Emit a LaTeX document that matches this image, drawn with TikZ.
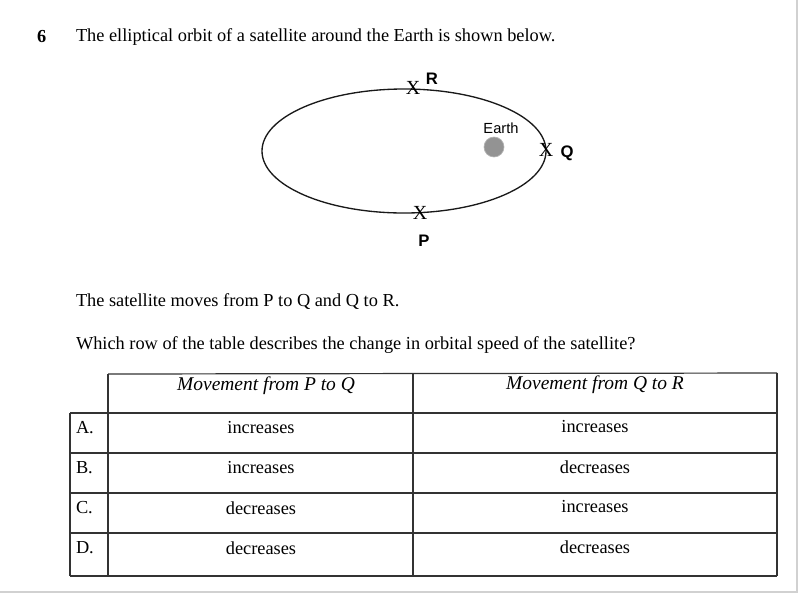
\documentclass[tikz,border=0pt]{standalone}
\usepackage{fontspec}
\setmainfont{Liberation Serif}
\newfontfamily\labfont{Liberation Sans}
\begin{document}
\begin{tikzpicture}[x=0.75pt,y=-0.75pt,
  every node/.style={inner sep=0pt,outer sep=0pt},
  body/.style={font=\fontsize{13.75}{16}\selectfont, anchor=west},
  cell/.style={font=\fontsize{13.75}{16}\selectfont},
  head/.style={font=\fontsize{14.6}{17}\selectfont\itshape},
  letter/.style={font=\fontsize{13.75}{16}\selectfont, anchor=west},
  cross/.style={font=\fontsize{15}{17}\selectfont},
  lab/.style={font=\labfont\bfseries\fontsize{12.5}{15}\selectfont},
  grid/.style={line width=0.9pt, draw=black!80},
  orbit/.style={line width=1pt, draw=black!90}
]
\useasboundingbox (0,0) rectangle (799,594);
\fill[white] (0,0) rectangle (799,594);
\draw[black!18, line width=1pt] (797,0) -- (797,592) -- (0,592);

% question
\node[body, font=\bfseries\fontsize{13.75}{16}\selectfont] (num) at (37,37) {6};
\node[body] (q1) at (76,37) {The elliptical orbit of a satellite around the Earth is shown below.};

% orbit
\draw[orbit] (404,151) ellipse [x radius=142, y radius=62];
\node[cross] (xR) at (413,88) {X};
\node[lab] (R) at (432,79) {R};
\node[cross] (xP) at (420,213) {X};
\node[lab] (P) at (424,241) {P};
\node[cross] (xQ) at (546,150) {X};
\node[lab] (Q) at (567,153) {Q};
\fill[gray!85, draw=gray!60, line width=0.5pt] (494,147) circle (10);
\node[font=\labfont\fontsize{11}{13}\selectfont] (earth) at (501,128) {Earth};

\node[body] (q2) at (76,302) {The satellite moves from P to Q and Q to R.};
\node[body] (q3) at (76,345) {Which row of the table describes the change in orbital speed of the satellite?};

% table
\draw[grid] (108,374) -- (777,373);
\foreach \y in {413,453,493,533,576} \draw[grid] (70,\y) -- (777,\y);
\draw[grid] (70,413) -- (70,576);
\draw[grid] (108,374) -- (108,576);
\draw[grid] (413,374) -- (413,576);
\draw[grid] (777,373) -- (777,576);

\node[head] (h1) at (266,386) {Movement from P to Q};
\node[head] (h2) at (595,385) {Movement from Q to R};

\node[letter] (lA) at (76,428) {A.};
\node[letter] (lB) at (76,468) {B.};
\node[letter] (lC) at (76,508) {C.};
\node[letter] (lD) at (76,548) {D.};

\node[cell] (a1) at (261,428) {increases};
\node[cell] (a2) at (595,427) {increases};
\node[cell] (b1) at (261,468) {increases};
\node[cell] (b2) at (595,467) {decreases};
\node[cell] (c1) at (261,508) {decreases};
\node[cell] (c2) at (595,507) {increases};
\node[cell] (d1) at (261,548) {decreases};
\node[cell] (d2) at (595,547) {decreases};
\end{tikzpicture}
\end{document}
